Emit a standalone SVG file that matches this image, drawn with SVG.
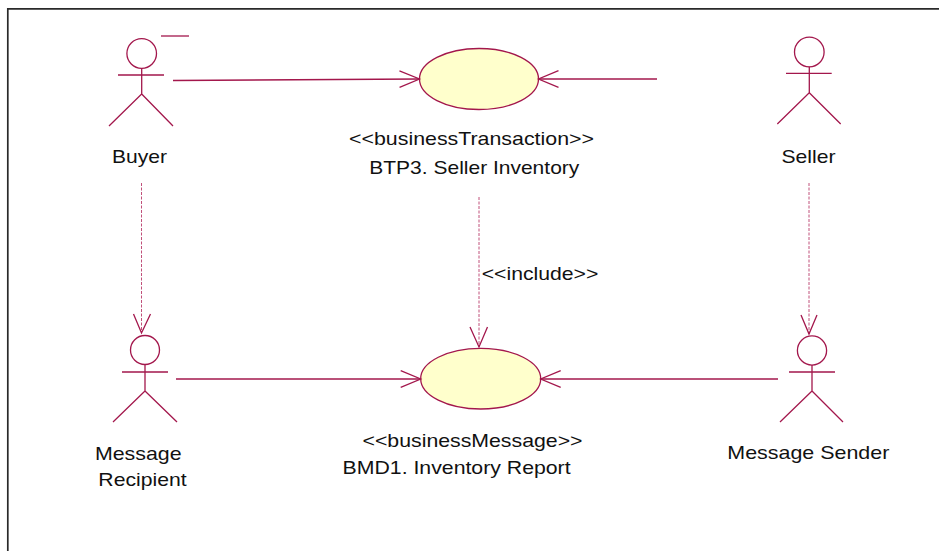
<svg xmlns="http://www.w3.org/2000/svg" width="939" height="551" viewBox="0 0 939 551">
<style>
.ln{stroke:#A3174C;stroke-width:1.3;fill:none}
.ds{stroke:#C0507A;stroke-width:1;fill:none;stroke-dasharray:3,1.5}
.uc{fill:#FFFFCC;stroke:#A3174C;stroke-width:1.3}
.t{font-family:"Liberation Sans",Arial,sans-serif;font-size:19px;fill:#111;text-anchor:middle}
</style>
<defs>
<marker id="arr" markerUnits="userSpaceOnUse" markerWidth="30" markerHeight="30" viewBox="-25 -12 30 24" refX="0" refY="0" orient="auto" overflow="visible">
<path d="M-20,-8.3 L0,0 L-20,8.3" fill="none" stroke="#A3174C" stroke-width="1.3"/>
</marker>
</defs>
<rect width="939" height="551" fill="#fff"/>
<path d="M7.8,551 V8.8 H939" fill="none" stroke="#2a2a2a" stroke-width="1.7"/>

<g id="buyer">
<circle class="ln" cx="141.7" cy="53.5" r="14.8"/>
<path class="ln" d="M118,75 H164 M141.7,68.3 V94 L109,126 M141.7,94 L173,126"/>
<path class="ln" d="M161,36 H189"/>
<text class="t" x="139.5" y="163" textLength="55" lengthAdjust="spacingAndGlyphs">Buyer</text>
</g>

<g id="seller">
<circle class="ln" cx="809.3" cy="52" r="14.8"/>
<path class="ln" d="M786,73.3 H831.7 M809.3,66.8 V92.7 L777.3,124 M809.3,92.7 L840.7,124"/>
<text class="t" x="808.5" y="162.5" textLength="54" lengthAdjust="spacingAndGlyphs">Seller</text>
</g>

<g id="recipient">
<circle class="ln" cx="145" cy="350" r="14.5"/>
<path class="ln" d="M122,372 H168 M145,364.5 V391 L113,422 M145,391 L177,422"/>
<text class="t" x="138.3" y="460" textLength="86.7" lengthAdjust="spacingAndGlyphs">Message</text>
<text class="t" x="142.5" y="486" textLength="88.3" lengthAdjust="spacingAndGlyphs">Recipient</text>
</g>

<g id="sender">
<circle class="ln" cx="812" cy="350.5" r="14.6"/>
<path class="ln" d="M789,372 H835 M812,365 V391 L780,422 M812,391 L843,422"/>
<text class="t" x="808.3" y="459" textLength="162" lengthAdjust="spacingAndGlyphs">Message Sender</text>
</g>

<g id="btp3">
<ellipse class="uc" cx="479" cy="79" rx="59.5" ry="30.5"/>
<text class="t" x="471.5" y="145" textLength="245" lengthAdjust="spacingAndGlyphs">&lt;&lt;businessTransaction&gt;&gt;</text>
<text class="t" x="474.3" y="174" textLength="210" lengthAdjust="spacingAndGlyphs">BTP3. Seller Inventory</text>
</g>

<g id="bmd1">
<ellipse class="uc" cx="480.7" cy="378.7" rx="60" ry="30.3"/>
<text class="t" x="472.5" y="447" textLength="220" lengthAdjust="spacingAndGlyphs">&lt;&lt;businessMessage&gt;&gt;</text>
<text class="t" x="456.6" y="474" textLength="228" lengthAdjust="spacingAndGlyphs">BMD1. Inventory Report</text>
</g>

<g id="connectors">
<path class="ln" d="M173,80.5 L419.5,79" marker-end="url(#arr)"/>
<path class="ln" d="M657,79 H538.5" marker-end="url(#arr)"/>
<path class="ln" d="M176,379 H420.7" marker-end="url(#arr)"/>
<path class="ln" d="M778,379 H540.7" marker-end="url(#arr)"/>
<path class="ds" d="M141.5,183 V333"/>
<path class="ln" d="M133.5,314 L141.5,333 L150.5,314"/>
<path class="ds" d="M809,183 V334"/>
<path class="ln" d="M801,315 L809,334 L817,315"/>
<path class="ds" d="M479,197 V347"/>
<path class="ln" d="M470,327 L479,347 L487.5,327"/>
<text class="t" x="540" y="280" textLength="116.6" lengthAdjust="spacingAndGlyphs">&lt;&lt;include&gt;&gt;</text>
</g>
</svg>
